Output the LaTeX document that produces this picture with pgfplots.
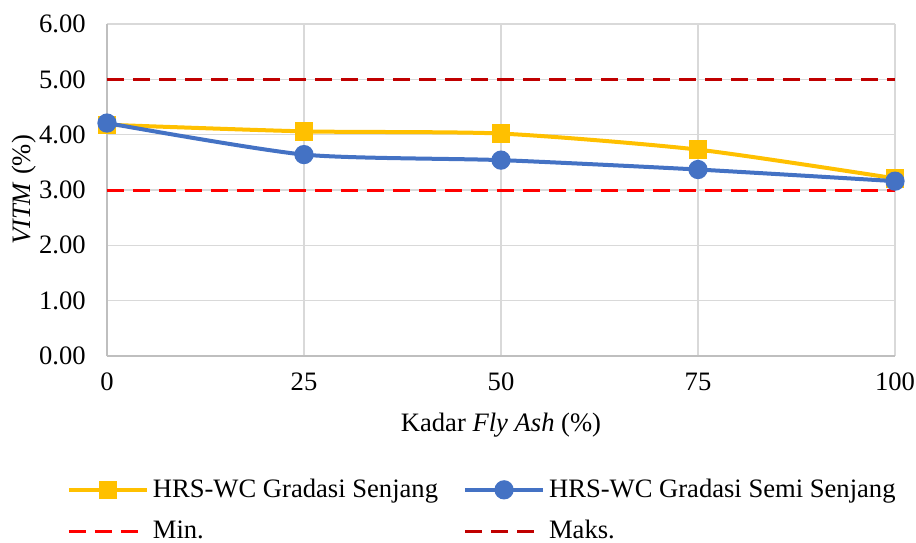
\documentclass[border=0pt]{standalone}
\usepackage{fontspec}
\setmainfont{Liberation Serif}
\usepackage{pgfplots}
\pgfplotsset{compat=1.18}
\definecolor{gold}{HTML}{FFC000}
\definecolor{steel}{HTML}{4472C4}
\definecolor{minred}{HTML}{FF0000}
\definecolor{maxred}{HTML}{C00000}
\definecolor{gridgray}{HTML}{D9D9D9}
\definecolor{axgray}{HTML}{BFBFBF}
\begin{document}
\fontsize{13.3}{16}\selectfont
\begin{tikzpicture}
\useasboundingbox (-53.5pt,-93pt) rectangle (404.5pt,178pt);
\begin{axis}[
  at={(0,0)}, anchor=south west,
  scale only axis, width=394pt, height=166pt,
  xmin=0, xmax=100, ymin=0, ymax=6,
  xtick={0,25,50,75,100},
  ytick={0,1,2,3,4,5,6},
  axis x line=bottom, axis y line=left,
  axis line style={axgray, line width=0.8pt, -},
  major tick length=0pt,
  grid=major,
  major grid style={gridgray, line width=0.8pt},
  /pgf/number format/assume math mode=true,
  yticklabel style={/pgf/number format/.cd, fixed, fixed zerofill, precision=2},
  xticklabel style={inner xsep=0pt, /pgf/number format/.cd, fixed, precision=0},
  ticklabel style={font=\fontsize{13.3}{16}\selectfont},
  tick align=outside,
  yticklabel shift=6pt,
  xticklabel shift=4pt,
  xlabel={Kadar \textit{Fly Ash} (\%)},
  ylabel={\textit{VITM} (\%)},
  label style={font=\fontsize{13.3}{16}\selectfont},
  xlabel shift=2pt,
  every axis y label/.style={at={(axis description cs:0,0.5)}, xshift=-41.5pt, rotate=90, anchor=center},
  legend columns=2,
  legend image code/.code={%
    \draw[mark repeat=2, mark phase=2] plot coordinates {(0pt,0pt) (19.5pt,0pt) (39pt,0pt)};},
  legend style={draw=none, fill=none, at={(-0.059,-0.344)}, anchor=north west,
    font=\fontsize{13.3}{16}\selectfont,
    /tikz/every even column/.append style={column sep=10.5pt},
    row sep=5.5pt},
  legend cell align=left,
  clip=false,
]
% limits of the specification
\addplot[minred, line width=1.5pt, dash pattern=on 8.5pt off 4.5pt, forget plot] coordinates {(0,3) (100,3)};
\addplot[maxred, line width=1.5pt, dash pattern=on 8.5pt off 4.5pt, forget plot] coordinates {(0,5) (100,5)};
% gap graded mix
\addplot[gold, line width=2pt, smooth, tension=0.4, mark=square*, mark size=3.6pt, mark options={solid, fill=gold, draw=gold}]
  coordinates {(0,4.18) (25,4.06) (50,4.02) (75,3.73) (100,3.21)};
\addlegendentry{HRS-WC Gradasi Senjang}
% semi gap graded mix
\addplot[steel, line width=2pt, smooth, tension=0.4, mark=*, mark size=3.8pt, mark options={solid, fill=steel, draw=steel}]
  coordinates {(0,4.21) (25,3.64) (50,3.54) (75,3.37) (100,3.16)};
\addlegendentry{HRS-WC Gradasi Semi Senjang}
\addlegendimage{minred, line width=1.5pt, dash pattern=on 8.5pt off 4.5pt}
\addlegendentry{Min.}
\addlegendimage{maxred, line width=1.5pt, dash pattern=on 8.5pt off 4.5pt}
\addlegendentry{Maks.}
\end{axis}
\end{tikzpicture}
\end{document}
